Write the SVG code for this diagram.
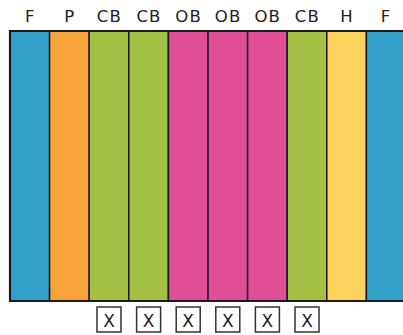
<svg xmlns="http://www.w3.org/2000/svg" width="403" height="335" viewBox="0 0 403 335">
<style>
.col{stroke:#1a1a1a;stroke-width:1.5}
.F{fill:#33a1c9}.P{fill:#f9a33b}.CB{fill:#a3c044}.OB{fill:#e04e95}.H{fill:#fed35d}
.lbl{font-family:"DejaVu Sans",sans-serif;font-size:16.5px;fill:#222;text-anchor:middle;letter-spacing:1.2px}
.box{fill:#fff;stroke:#333;stroke-width:1.5}
.x{font-family:"DejaVu Sans",sans-serif;font-size:17px;fill:#222;text-anchor:middle}
</style>
<g id="labels">
<text class="lbl" x="30.3" y="22">F</text>
<text class="lbl" x="69.9" y="22">P</text>
<text class="lbl" x="109.4" y="22">CB</text>
<text class="lbl" x="149" y="22">CB</text>
<text class="lbl" x="188.6" y="22">OB</text>
<text class="lbl" x="228.2" y="22">OB</text>
<text class="lbl" x="267.8" y="22">OB</text>
<text class="lbl" x="307.4" y="22">CB</text>
<text class="lbl" x="347" y="22">H</text>
<text class="lbl" x="386" y="22">F</text>
</g>
<g id="columns">
<rect id="c1" class="col F" x="10" y="31" width="39.6" height="270"/>
<rect id="c2" class="col P" x="49.6" y="31" width="39.6" height="270"/>
<rect id="c3" class="col CB" x="89.2" y="31" width="39.6" height="270"/>
<rect id="c4" class="col CB" x="128.8" y="31" width="39.6" height="270"/>
<rect id="c5" class="col OB" x="168.4" y="31" width="39.6" height="270"/>
<rect id="c6" class="col OB" x="208" y="31" width="39.6" height="270"/>
<rect id="c7" class="col OB" x="247.6" y="31" width="39.6" height="270"/>
<rect id="c8" class="col CB" x="287.2" y="31" width="39.6" height="270"/>
<rect id="c9" class="col H" x="326.8" y="31" width="39.6" height="270"/>
<rect id="c10" class="col F" x="366.4" y="31" width="39.6" height="270"/>
</g>
<g id="border" fill="none" stroke="#1a1a1a" stroke-width="2.2">
<path d="M404,31 H10 V301 H404"/>
</g>
<g id="boxes">
<g id="b1"><rect class="box" x="97" y="307" width="24" height="25"/><text class="x" x="109" y="326.5">X</text></g>
<g id="b2"><rect class="box" x="136.6" y="307" width="24" height="25"/><text class="x" x="148.6" y="326.5">X</text></g>
<g id="b3"><rect class="box" x="176.2" y="307" width="24" height="25"/><text class="x" x="188.2" y="326.5">X</text></g>
<g id="b4"><rect class="box" x="215.8" y="307" width="24" height="25"/><text class="x" x="227.8" y="326.5">X</text></g>
<g id="b5"><rect class="box" x="255.4" y="307" width="24" height="25"/><text class="x" x="267.4" y="326.5">X</text></g>
<g id="b6"><rect class="box" x="295" y="307" width="24" height="25"/><text class="x" x="307" y="326.5">X</text></g>
</g>
</svg>
